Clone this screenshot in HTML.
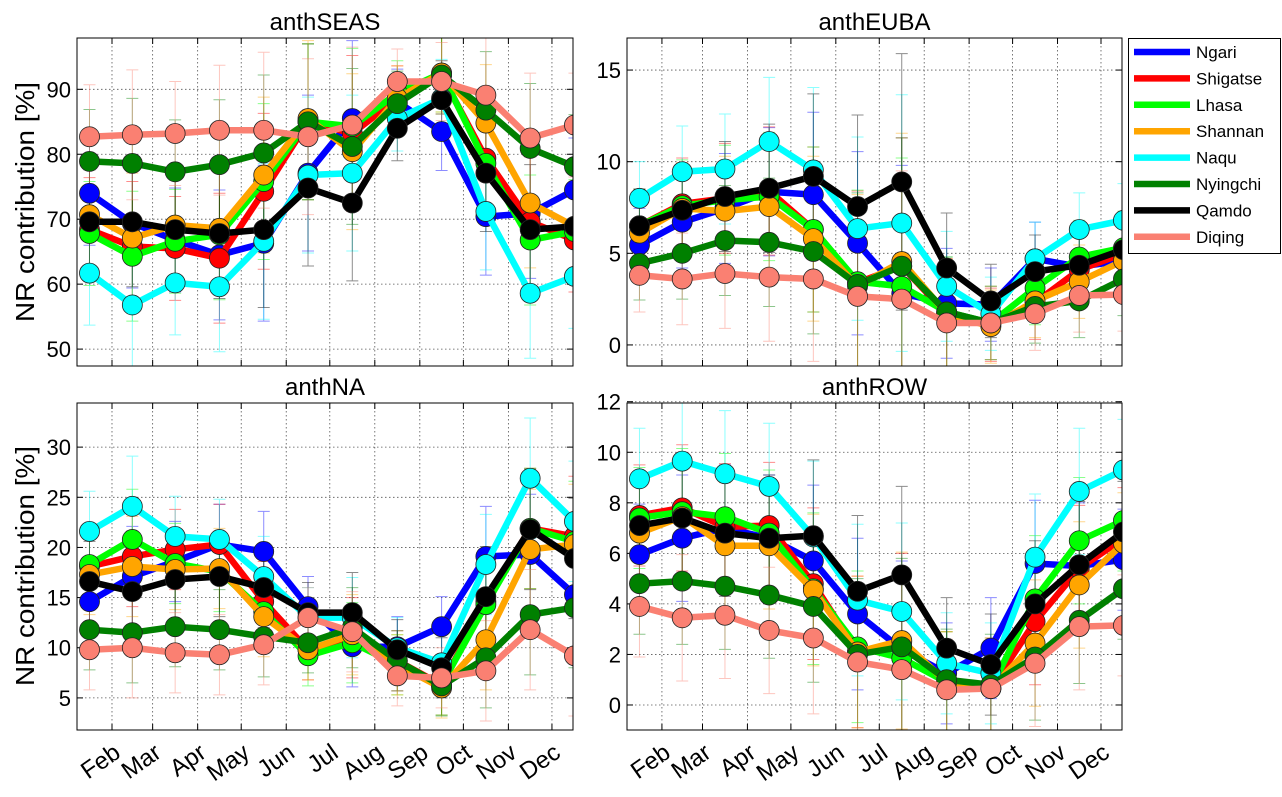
<!DOCTYPE html>
<html><head><meta charset="utf-8">
<style>
html,body{margin:0;padding:0;background:#fff;}
svg{display:block;font-family:"Liberation Sans","DejaVu Sans",sans-serif;}
</style></head>
<body>
<svg id="chart" width="1282" height="797" viewBox="0 0 1282 797" xmlns="http://www.w3.org/2000/svg">
<text x="0" y="0" transform="translate(27,202) rotate(-90)" font-size="26" text-anchor="middle" dominant-baseline="middle" textLength="240" lengthAdjust="spacingAndGlyphs">NR contribution [%]</text>
<text x="0" y="0" transform="translate(27,566) rotate(-90)" font-size="26" text-anchor="middle" dominant-baseline="middle" textLength="240" lengthAdjust="spacingAndGlyphs">NR contribution [%]</text>
<g id="legend"></g>
</svg>
<script>
const stations = ["Ngari","Shigatse","Lhasa","Shannan","Naqu","Nyingchi","Qamdo","Diqing"];
const colors = ["#0000ff","#ff0000","#00ff00","#ffa500","#00ffff","#008000","#000000","#fa8072"];
const monthDays = [15.5,45,74.5,105,135.5,166,196.5,227.5,258,288.5,319,349.5];
const tickDays = [31,59,90,120,151,181,212,243,273,304,334];
const tickMonths = ["Feb","Mar","Apr","May","Jun","Jul","Aug","Sep","Oct","Nov","Dec"];

const seasVals = [
 [74.0,69.4,66.8,64.5,66.3,77.1,85.5,88.1,83.5,70.4,70.9,74.5],
 [68.4,65.8,65.5,64.0,74.3,85.0,83.2,88.6,92.2,79.4,69.6,66.8],
 [67.8,64.3,66.6,67.6,75.8,85.0,84.3,89.4,92.5,78.6,66.8,68.1],
 [70.7,67.1,69.1,68.6,76.8,85.5,80.4,88.6,92.5,84.8,72.5,68.9],
 [61.7,56.8,60.2,59.6,66.6,76.8,77.1,85.5,88.6,71.2,58.6,61.2],
 [78.9,78.6,77.3,78.4,80.2,85.0,81.2,87.8,92.2,86.8,80.9,78.1],
 [69.6,69.6,68.4,67.8,68.4,74.8,72.5,84.0,88.4,77.1,68.4,68.9],
 [82.7,83.0,83.2,83.7,83.7,82.7,84.5,91.2,91.2,89.1,82.5,84.5]];
const eubaVals = [
 [5.45,6.7,7.45,8.36,8.2,5.55,2.8,2.27,2.2,4.7,4.27,4.6],
 [6.5,7.7,8.0,8.4,6.3,3.4,4.3,1.7,1.1,2.3,4.1,5.0],
 [6.5,7.6,7.9,8.1,6.3,3.45,3.2,1.8,1.2,3.1,4.8,5.3],
 [6.1,7.45,7.3,7.55,5.8,3.2,4.55,1.7,1.0,2.4,3.45,4.6],
 [8.0,9.45,9.6,11.1,9.55,6.35,6.65,3.2,1.7,4.7,6.3,6.8],
 [4.45,5.0,5.7,5.6,5.1,3.3,4.3,1.8,1.2,2.1,2.4,3.6],
 [6.5,7.35,8.1,8.55,9.2,7.55,8.9,4.2,2.4,4.0,4.35,5.2],
 [3.8,3.6,3.9,3.7,3.6,2.65,2.5,1.2,1.2,1.7,2.7,2.75]];
const naVals = [
 [14.6,17.1,18.6,20.3,19.6,14.1,10.1,10.1,12.1,19.1,19.3,15.3],
 [18.1,19.1,19.8,20.3,14.6,9.8,11.0,8.7,6.3,14.6,21.9,21.1],
 [18.3,20.8,18.4,17.6,13.6,9.2,10.5,8.3,6.3,14.3,21.9,20.6],
 [17.3,18.1,17.8,17.9,13.1,9.8,11.3,8.3,6.0,10.8,19.8,20.3],
 [21.6,24.1,21.1,20.8,17.1,13.0,13.0,10.0,8.5,18.3,26.9,22.6],
 [11.8,11.5,12.1,11.8,11.1,10.5,12.0,8.7,6.2,9.0,13.3,14.0],
 [16.6,15.6,16.8,17.1,16.0,13.5,13.5,9.8,8.0,15.1,21.8,18.9],
 [9.8,10.0,9.5,9.3,10.3,13.0,11.6,7.2,7.0,7.7,11.8,9.2]];
const rowVals = [
 [5.95,6.6,7.0,6.6,5.7,3.6,2.2,1.25,2.25,5.6,5.5,5.75],
 [7.5,7.8,7.05,7.1,4.8,2.1,2.5,0.9,0.65,3.3,5.4,6.6],
 [7.4,7.65,7.45,6.8,4.6,2.3,1.85,0.9,0.65,4.2,6.5,7.3],
 [6.8,7.45,6.3,6.3,4.55,2.1,2.55,0.9,0.65,2.45,4.75,6.4],
 [8.95,9.65,9.15,8.65,6.65,4.15,3.7,1.65,1.25,5.85,8.45,9.3],
 [4.8,4.9,4.7,4.35,3.9,2.0,2.3,1.0,0.8,1.9,3.35,4.6],
 [7.1,7.4,6.8,6.6,6.7,4.5,5.15,2.25,1.6,4.0,5.55,6.85],
 [3.9,3.45,3.55,2.95,2.65,1.7,1.4,0.6,0.65,1.65,3.1,3.15]];
const seasErr = [8,10,8,10,12,12,12,5,6,9,10,8];
const eubaErr = [2,2.5,3,3.5,4.5,5,7,3,2,2,2,2];
const naErr = [4,5,4,4,4,3,4,3,3,5,6,6];
const rowErr = [2,2.5,2.5,2.5,3,3,3.5,2,2,2.5,2.5,2];
const seasTicks = [50,60,70,80,90];
const eubaTicks = [0,5,10,15];
const naTicks = [5,10,15,20,25,30];
const rowTicks = [0,2,4,6,8,10,12];

const NS="http://www.w3.org/2000/svg";
const svg=document.getElementById('chart');
function el(tag,attrs,parent){const e=document.createElementNS(NS,tag);for(const k in attrs)e.setAttribute(k,attrs[k]);(parent||svg).appendChild(e);return e;}

const panels=[
 {name:"anthSEAS",slug:"seas",x0:77,x1:573,y0:38,y1:366,dmin:47.4,dmax:97.9,vals:seasVals,err:seasErr,ticks:seasTicks,xl:false},
 {name:"anthEUBA",slug:"euba",x0:627,x1:1122,y0:38,y1:366,dmin:-1.15,dmax:16.75,vals:eubaVals,err:eubaErr,ticks:eubaTicks,xl:false},
 {name:"anthNA",slug:"na",x0:77,x1:573,y0:403,y1:730,dmin:1.8,dmax:34.4,vals:naVals,err:naErr,ticks:naTicks,xl:true},
 {name:"anthROW",slug:"row",x0:627,x1:1122,y0:403,y1:730,dmin:-0.99,dmax:11.95,vals:rowVals,err:rowErr,ticks:rowTicks,xl:true}];
const dayMin=6.9, dayMax=348.5;

panels.forEach((p,pi)=>{
 const xs=d=>p.x0+(d-dayMin)/(dayMax-dayMin)*(p.x1-p.x0);
 const ys=v=>p.y1-(v-p.dmin)/(p.dmax-p.dmin)*(p.y1-p.y0);
 const g=el('g',{});
 
 
 const cp=el('clipPath',{id:'cp'+pi},g);
 el('rect',{x:p.x0,y:p.y0,width:p.x1-p.x0,height:p.y1-p.y0},cp);
 const t=el('text',{x:(p.x0+p.x1)/2,y:p.y0-8,'font-size':24,'text-anchor':'middle'},g);
 t.textContent=p.name;
 
 
 p.ticks.forEach(v=>{
  const y=ys(v);
  const gl=el('line',{x1:p.x0,x2:p.x1,y1:y,y2:y,stroke:'#555','stroke-width':0.8,'stroke-dasharray':'1.5,2.5'},g);
  
  
  el('line',{x1:p.x0,x2:p.x0+6,y1:y,y2:y,stroke:'#000'},g);
  el('line',{x1:p.x1,x2:p.x1-6,y1:y,y2:y,stroke:'#000'},g);
  const tl=el('text',{x:p.x0-6,y:y+8,'font-size':22,'text-anchor':'end'},g);
  tl.textContent=v;
  
  
 });
 tickDays.forEach((d,i)=>{
  const x=xs(d);
  const gl=el('line',{x1:x,x2:x,y1:p.y0,y2:p.y1,stroke:'#555','stroke-width':0.8,'stroke-dasharray':'1.5,2.5'},g);
  
  
  el('line',{x1:x,x2:x,y1:p.y1,y2:p.y1-6,stroke:'#000'},g);
  el('line',{x1:x,x2:x,y1:p.y0,y2:p.y0+6,stroke:'#000'},g);
  if(p.xl){
   const tl=el('text',{x:0,y:0,'font-size':24,'text-anchor':'end',transform:`translate(${x+10},${p.y1+26}) rotate(-35)`},g);
   tl.textContent=tickMonths[i];
   
   
  }
 });
 const dg=el('g',{'clip-path':`url(#cp${pi})`},g);
 p.vals.forEach((ser,si)=>{
  ser.forEach((v,i)=>{
   const x=xs(monthDays[i]), e=p.err[i];
   const ya=ys(v+e), yb=ys(v-e);
   const eb=el('path',{d:`M${x},${ya}V${yb}M${x-6},${ya}H${x+6}M${x-6},${yb}H${x+6}`,stroke:colors[si],'stroke-width':1,opacity:0.45,fill:'none'},dg);
   
   
  });
 });
 p.vals.forEach((ser,si)=>{
  const pts=ser.map((v,i)=>`${xs(monthDays[i])},${ys(v)}`).join(' ');
  const ln=el('polyline',{points:pts,fill:'none',stroke:colors[si],'stroke-width':6.5,'stroke-linejoin':'round'},dg);
  
  
  ser.forEach((v,i)=>{
   const c=el('circle',{cx:xs(monthDays[i]),cy:ys(v),r:10,fill:colors[si],stroke:'#222','stroke-width':0.8},dg);
   
   
  });
 });
 const fr=el('rect',{x:p.x0,y:p.y0,width:p.x1-p.x0,height:p.y1-p.y0,fill:'none',stroke:'#000','stroke-width':1},g);
 
 
});

const lg=document.getElementById('legend');
el('rect',{x:1128.5,y:38.5,width:152,height:215,fill:'#fff',stroke:'#000','stroke-width':1},lg);
stations.forEach((s,i)=>{
 const y=52+i*26.4;
 const ent=el('g',{},lg);
 
 
 el('line',{x1:1134,x2:1190,y1:y,y2:y,stroke:colors[i],'stroke-width':6.5},ent);
 const t=el('text',{x:1196,y:y+6,'font-size':17},ent);
 t.textContent=s;
});
</script>
</body></html>
